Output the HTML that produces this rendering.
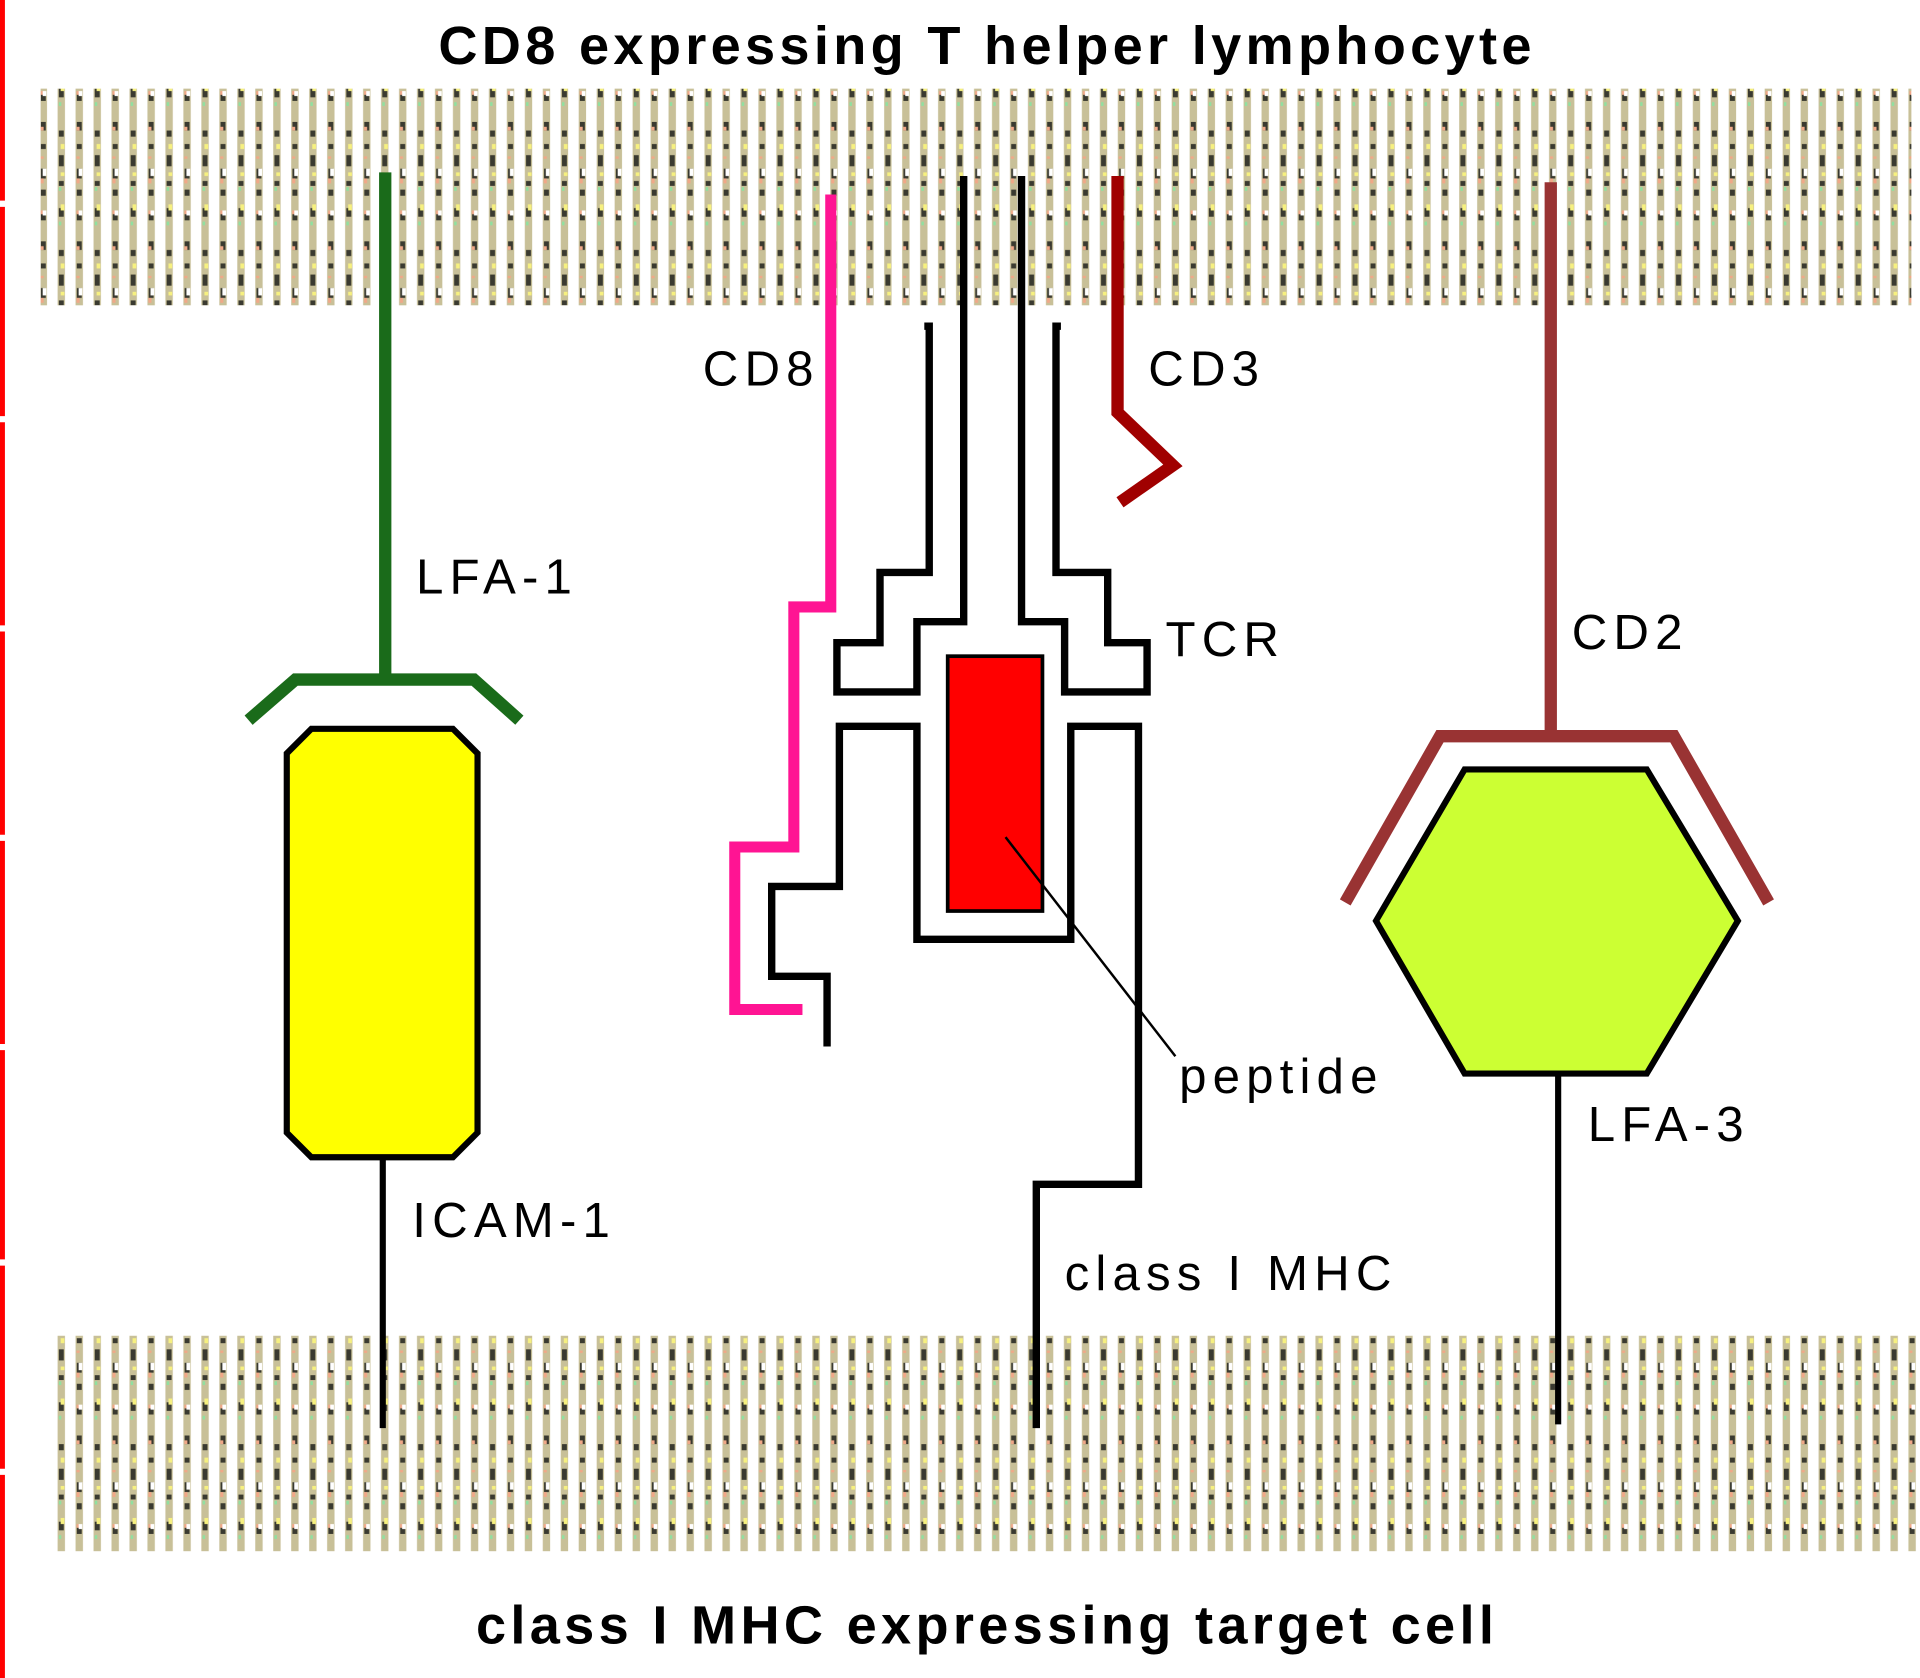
<!DOCTYPE html>
<html><head><meta charset="utf-8"><style>
html,body{margin:0;padding:0;background:#fff;}
svg{display:block;}
text{font-family:"Liberation Sans","DejaVu Sans",sans-serif;}
</style></head><body>
<svg width="1920" height="1678" viewBox="0 0 1560 1363" preserveAspectRatio="none" xmlns="http://www.w3.org/2000/svg">
<defs>
<pattern id="mem" width="29.2" height="97" patternUnits="userSpaceOnUse">
<rect x="3" y="0" width="6" height="97" fill="#c8c098"/>
<rect x="17.6" y="0" width="6" height="97" fill="#c8c098"/>
<line x1="6" y1="2" x2="6" y2="97" stroke="#3a3a30" stroke-width="4" stroke-dasharray="7 11 4 16 8 9 5 14 6 17"/>
<line x1="20.6" y1="9" x2="20.6" y2="97" stroke="#3a3a30" stroke-width="4" stroke-dasharray="5 15 9 12 4 18 7 27"/>
<line x1="5" y1="6" x2="5" y2="97" stroke="#f0a888" stroke-width="2.5" stroke-dasharray="3 21 2 16 4 22 3 26"/>
<line x1="21.6" y1="20" x2="21.6" y2="97" stroke="#f6f080" stroke-width="3" stroke-dasharray="4 19 3 23 5 30"/>
<line x1="7" y1="40" x2="7" y2="97" stroke="#ffffff" stroke-width="3" stroke-dasharray="6 28 4 19"/>
<line x1="19.6" y1="55" x2="19.6" y2="97" stroke="#90e0a0" stroke-width="2" stroke-dasharray="3 25 3 30"/>
</pattern>
</defs>
<g stroke="#ff0000" stroke-width="4">
<line x1="2" y1="0" x2="2" y2="163"/><line x1="2" y1="168" x2="2" y2="338"/>
<line x1="2" y1="343" x2="2" y2="508"/><line x1="2" y1="513" x2="2" y2="678"/>
<line x1="2" y1="683" x2="2" y2="848"/><line x1="2" y1="853" x2="2" y2="1023"/>
<line x1="2" y1="1028" x2="2" y2="1193"/><line x1="2" y1="1198" x2="2" y2="1363"/>
</g>
<rect x="33" y="72" width="1520" height="176" fill="url(#mem)"/>
<rect x="42" y="1085" width="1515" height="175" fill="url(#mem)"/>

<text x="802" y="52" font-size="44" font-weight="bold" text-anchor="middle" letter-spacing="3.5">CD8 expressing T helper lymphocyte</text>
<text x="802" y="1335" font-size="44" font-weight="bold" text-anchor="middle" letter-spacing="3.5">class I MHC expressing target cell</text>

<line x1="313" y1="140" x2="313" y2="552" stroke="#1a6b1a" stroke-width="10"/>
<polyline points="202,585 240,552 385,552 422,585" fill="none" stroke="#1a6b1a" stroke-width="10"/>
<polygon points="253,592 368,592 388,612 388,920 368,940 253,940 233,920 233,612" fill="#ffff00" stroke="#000" stroke-width="5"/>
<line x1="311" y1="940" x2="311" y2="1160" stroke="#000" stroke-width="5"/>

<polyline points="675,158 675,493 645,493 645,688 597,688 597,820 652,820" fill="none" stroke="#ff1493" stroke-width="9"/>

<polyline points="751,265 755,265 755,465 715,465 715,522 680,522 680,562 745,562 745,505 783,505 783,143" fill="none" stroke="#000" stroke-width="6"/>
<polyline points="830,143 830,505 865,505 865,562 932,562 932,522 900,522 900,465 858,465 858,265 862,265" fill="none" stroke="#000" stroke-width="6"/>

<polyline points="672,850 672,793 627,793 627,720 682,720 682,590 745,590 745,763 870,763 870,590 925,590 925,962 842,962 842,1160" fill="none" stroke="#000" stroke-width="6"/>
<rect x="770" y="533" width="77" height="207" fill="#ff0000" stroke="#000" stroke-width="3"/>
<line x1="817" y1="680" x2="955" y2="858" stroke="#000" stroke-width="2"/>

<polyline points="908,143 908,335 953,378 910,408" fill="none" stroke="#a00000" stroke-width="10"/>

<line x1="1260" y1="148" x2="1260" y2="598" stroke="#993333" stroke-width="10"/>
<polyline points="1093,733 1170,598 1360,598 1437,733" fill="none" stroke="#993333" stroke-width="10"/>
<polygon points="1118,748 1190,625 1338,625 1412,748 1338,872 1190,872" fill="#ccff33" stroke="#000" stroke-width="5"/>
<line x1="1266" y1="872" x2="1266" y2="1157" stroke="#000" stroke-width="5"/>

<g font-size="40" fill="#000" letter-spacing="5">
<text x="338" y="482">LFA-1</text>
<text x="335" y="1005">ICAM-1</text>
<text x="571" y="313">CD8</text>
<text x="933" y="313">CD3</text>
<text x="947" y="533">TCR</text>
<text x="1277" y="527">CD2</text>
<text x="958" y="888">peptide</text>
<text x="1290" y="927">LFA-3</text>
<text x="865" y="1048">class I MHC</text>
</g>
</svg>
</body></html>
